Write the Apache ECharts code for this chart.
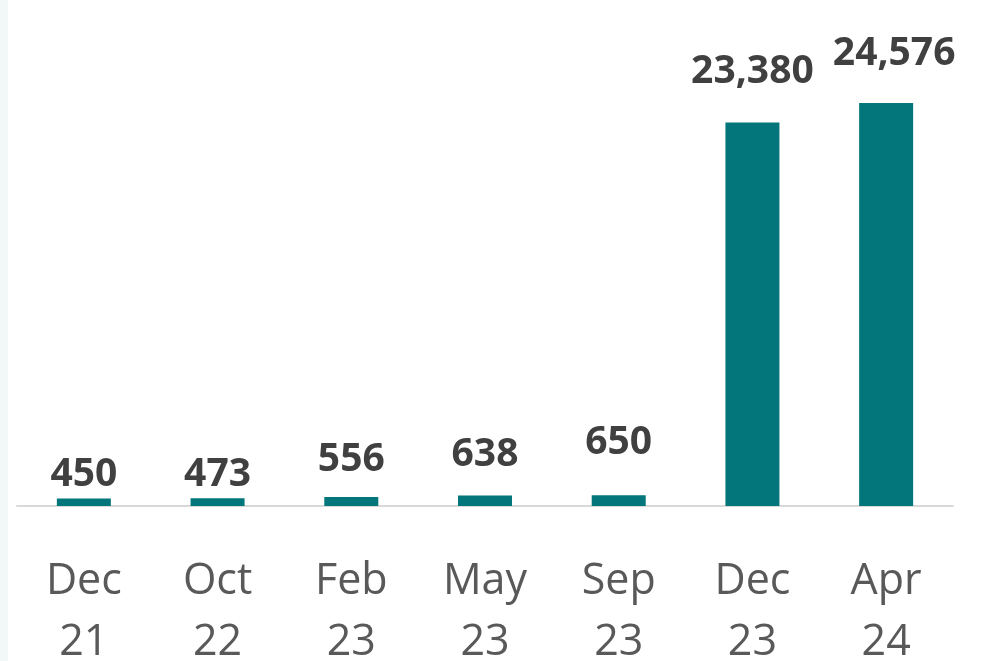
<!DOCTYPE html>
<html>
<head>
<meta charset="utf-8">
<script src="https://cdn.jsdelivr.net/npm/echarts@6/dist/echarts.min.js"></script>
<style>
html,body{margin:0;padding:0;background:#fff;}
#strip{position:absolute;left:0;top:0;width:8px;height:661px;background:#f2f7f7;}
#chart{position:absolute;left:0;top:0;width:1007px;height:661px;}
</style>
</head>
<body>
<div id="strip"></div>
<div id="chart"></div>
<script>
const categories = ['Dec\n21', 'Oct\n22', 'Feb\n23', 'May\n23', 'Sep\n23', 'Dec\n23', 'Apr\n24'];
const values = [450, 473, 556, 638, 650, 23380, 24576];
// manual label placement (gap above bar, horizontal shift), as in the reference
const labelGaps = [4, 4, 17, 21, 33, 31, 30];
const labelShifts = [0, 0, 0, 0, 0, 0, 8];

const chart = echarts.init(document.getElementById('chart'));
chart.setOption({
  animation: false,
  grid: { left: 17, right: 54, top: 14, bottom: 155, outerBoundsMode: 'none', containLabel: false },
  xAxis: {
    type: 'category',
    data: categories,
    axisLine: { lineStyle: { color: '#d9d9d9', width: 2 } },
    axisTick: { show: false },
    axisLabel: {
      fontFamily: 'Open Sans',
      fontSize: 43,
      color: '#595959',
      lineHeight: 61,
      margin: 45
    }
  },
  yAxis: {
    type: 'value',
    min: 0,
    max: 30000,
    show: false,
    splitLine: { show: false }
  },
  series: [{
    type: 'bar',
    barWidth: 54,
    itemStyle: { color: '#02767a' },
    data: values.map((v, i) => ({
      value: v,
      label: { offset: [labelShifts[i], -labelGaps[i]] }
    })),
    label: {
      show: true,
      position: 'top',
      distance: 0,
      fontFamily: 'Open Sans',
      fontWeight: 'bold',
      fontSize: 39,
      color: '#404040',
      formatter: p => p.value.toLocaleString('en-US')
    }
  }]
});
</script>
</body>
</html>
